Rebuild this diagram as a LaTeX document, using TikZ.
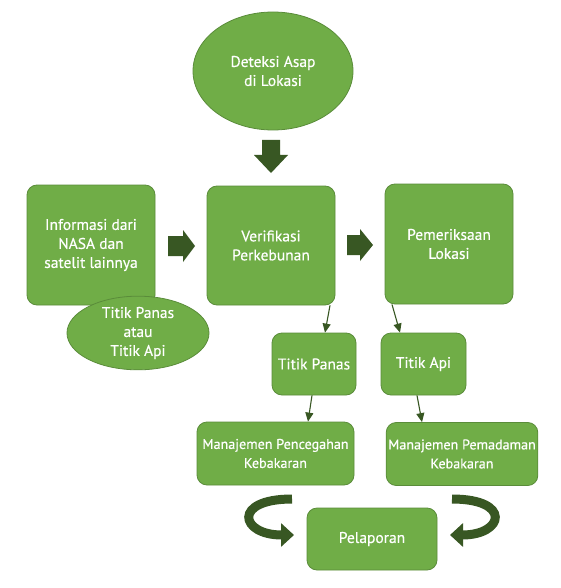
\documentclass[tikz,border=0pt]{standalone}
\usepackage{fontspec}
\setmainfont{PT Sans}[FakeBold=0.4]
\usetikzlibrary{arrows.meta,shapes.geometric}
\definecolor{boxgreen}{HTML}{70AD47}
\definecolor{boxedge}{HTML}{5A8C3A}
\definecolor{arrowgreen}{HTML}{385723}
\begin{document}
\begin{tikzpicture}[x=1pt,y=-1pt,
  box/.style={draw=boxedge,line width=0.8pt,fill=boxgreen,rounded corners=10pt,
    text=white,align=center,inner sep=2pt,font=\fontsize{15.5}{19}\selectfont},
  smalltext/.style={font=\fontsize{14.1}{19}\selectfont},
  oval/.style={ellipse,draw=boxedge,line width=0.8pt,fill=boxgreen,
    text=white,align=center,inner sep=0pt,font=\fontsize{15.5}{19}\selectfont},
  thinarrow/.style={draw=arrowgreen,line width=1.1pt,-{Triangle[length=9pt,width=8pt]}},
  blockarrow/.style={fill=arrowgreen},
  curvearrow/.style={draw=arrowgreen,line width=9pt,-{Triangle[length=13pt,width=23pt]}}]
\useasboundingbox (0,0) rectangle (561,588);
\fill[white] (0,0) rectangle (561,588);

\node[oval,minimum width=160pt,minimum height=118pt] (detek) at (273,71) {Deteksi Asap\\di Lokasi};

\node[box,minimum width=128pt,minimum height=120pt] (info) at (91,245) {Informasi dari\\NASA dan\\satelit lainnya};
\node[box,minimum width=128pt,minimum height=119pt] (verif) at (271,245.5) {Verifikasi\\Perkebunan};
\node[box,minimum width=128pt,minimum height=120pt] (pemer) at (449,244) {\raisebox{-5pt}{\parbox{120pt}{\centering Pemeriksaan\\Lokasi}}};
\node[oval,minimum width=142pt,minimum height=70pt] (titik) at (138,333) {Titik Panas\\atau\\Titik Api};

\node[box,minimum width=84pt,minimum height=62pt] (panas) at (314,364) {Titik Panas};
\node[box,minimum width=85pt,minimum height=62pt] (api) at (423.5,364) {Titik Api};
\node[box,smalltext,minimum width=157pt,minimum height=63pt] (cegah) at (275.5,453.5) {Manajemen Pencegahan\\Kebakaran};
\node[box,smalltext,minimum width=150pt,minimum height=63pt] (padam) at (462,454) {Manajemen Pemadaman\\Kebakaran};
\node[box,minimum width=130pt,minimum height=62pt] (lapor) at (372,539) {Pelaporan};

% block arrows
\fill[blockarrow] (262,140) -- (280,140) -- (280,155) -- (288,155) -- (271,173) -- (254,155) -- (262,155) -- cycle;
\fill[blockarrow] (168,236) -- (183,236) -- (183,230) -- (195,246) -- (183,262) -- (183,256) -- (168,256) -- cycle;
\fill[blockarrow] (347,235) -- (360,235) -- (360,229) -- (373,245) -- (360,261) -- (360,255) -- (347,255) -- cycle;

% thin arrows
\draw[thinarrow] ([xshift=59pt]verif.south) -- ([xshift=11pt]panas.north);
\draw[thinarrow] ([xshift=-57pt]pemer.south) -- ([xshift=-23.5pt]api.north);
\draw[thinarrow] ([xshift=-2pt]panas.south) -- ([xshift=32.5pt]cegah.north);
\draw[thinarrow] ([xshift=-6.5pt]api.south) -- ([xshift=-40pt]padam.north);

% curved arrows
\coordinate (la) at (292,499);
\coordinate (lb) at (294,535);
\coordinate (ra) at (452,499);
\coordinate (rb) at (450,535);
\draw[curvearrow] (la) .. controls (232,499) and (240,535) .. (lb);
\draw[curvearrow] (ra) .. controls (512,499) and (504,535) .. (rb);
\end{tikzpicture}
\end{document}
